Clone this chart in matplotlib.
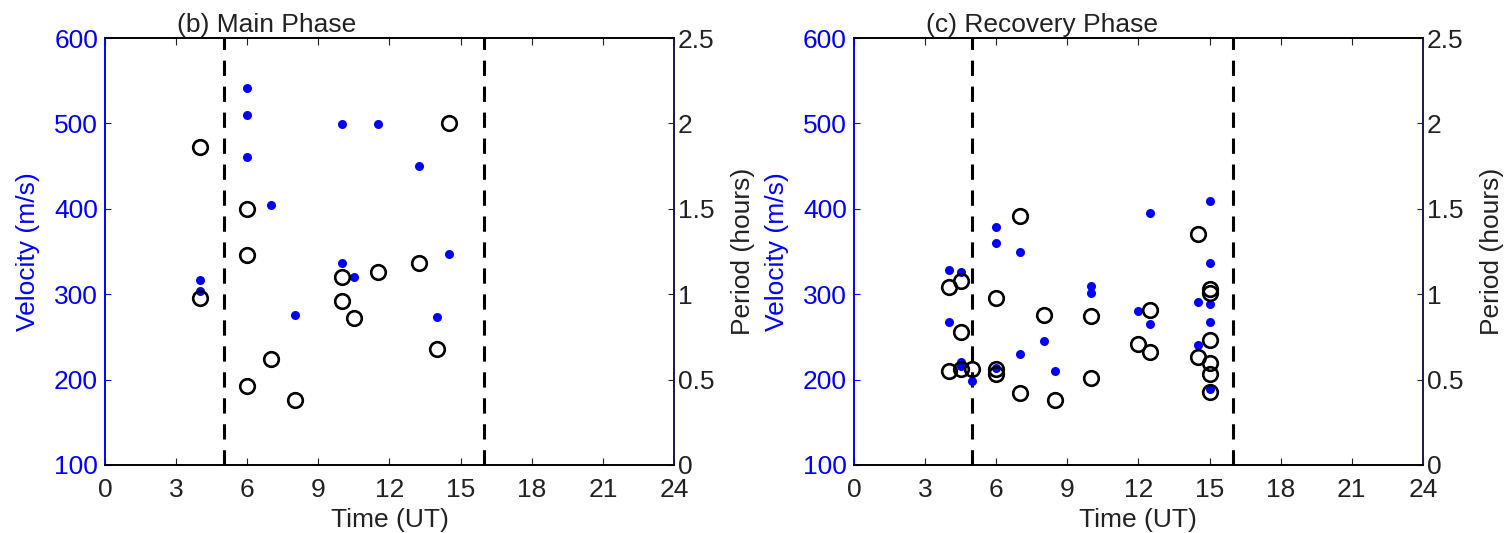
"""
Velocity and period of wave events vs. time, main and recovery phases
"""

import numpy as np
import matplotlib.pyplot as plt
from matplotlib.ticker import FuncFormatter

plt.rcParams['font.family'] = ['Liberation Sans', 'DejaVu Sans']

# (b) main phase
main_v_time = [4, 4, 6, 6, 6, 7, 8, 10, 10, 10.5, 11.5, 13.25, 14, 14.5]
main_velocity = [317, 304, 541, 510, 461, 405, 276, 499, 336, 320, 499, 450, 273, 347]
main_p_time = [4, 4, 6, 6, 6, 7, 8, 10, 10, 10.5, 11.5, 13.25, 14, 14.5]
main_period = [1.86, 0.98, 1.50, 1.23, 0.46, 0.62, 0.38, 1.10, 0.96, 0.86, 1.13, 1.18, 0.68, 2.0]

# (c) recovery phase
rec_v_time = [4, 4, 4.5, 4.5, 4.5, 5, 6, 6, 6, 7, 7, 8, 8.5, 10, 10, 12,
              12.5, 12.5, 14.5, 14.5, 15, 15, 15, 15, 15]
rec_velocity = [328, 268, 326, 221, 216, 198, 379, 360, 214, 349, 230, 245, 210, 310, 301, 280,
                395, 265, 291, 241, 409, 337, 288, 267, 189]
rec_p_time = [4, 4, 4.5, 4.5, 4.5, 5, 6, 6, 6, 7, 7, 8, 8.5, 10, 10, 12,
              12.5, 12.5, 14.5, 14.5, 15, 15, 15, 15, 15, 15]
rec_period = [1.04, 0.55, 1.08, 0.78, 0.56, 0.56, 0.98, 0.56, 0.53, 1.46, 0.42, 0.88, 0.38, 0.87, 0.51, 0.71,
              0.91, 0.66, 1.35, 0.63, 1.03, 1.01, 0.73, 0.60, 0.53, 0.43]

phase_bounds = [5, 16]
panels = [
    ("(b) Main Phase", main_v_time, main_velocity, main_p_time, main_period),
    ("(c) Recovery Phase", rec_v_time, rec_velocity, rec_p_time, rec_period),
]

BLUE = '#0000ff'
DARK = '#222222'
FS = 19


def _fmt(v, pos):
    return f"{v:g}"


fig = plt.figure(figsize=(15.06, 5.33), dpi=100)
lefts = [0.0697, 0.567]

for left, (title, vt, vel, pt, per) in zip(lefts, panels):
    ax = fig.add_axes([left, 0.1276, 0.3778, 0.801])
    ax2 = ax.twinx()

    ax.plot(vt, vel, 'o', color=BLUE, markersize=6.5, markeredgewidth=0, zorder=3)
    for xb in phase_bounds:
        ax.axvline(xb, color='black', linestyle=(0, (5, 3.5)), linewidth=2.2, zorder=2)
    ax2.plot(pt, per, 'o', markerfacecolor='none', markeredgecolor='black',
             markersize=10.5, markeredgewidth=1.9, zorder=3)

    ax.set_xlim(0, 24)
    ax.set_ylim(100, 600)
    ax2.set_ylim(0, 2.5)
    ax.set_xticks(np.arange(0, 25, 3))
    ax.set_yticks(np.arange(100, 601, 100))
    ax2.set_yticks(np.arange(0, 2.51, 0.5))
    ax2.yaxis.set_major_formatter(FuncFormatter(_fmt))

    ax.tick_params(axis='x', direction='in', top=True, length=5, colors=DARK, labelsize=FS, pad=9.5)
    ax.tick_params(axis='y', direction='in', length=4, colors=BLUE, labelsize=FS, pad=5)
    ax2.tick_params(axis='y', direction='in', length=4, colors=DARK, labelsize=FS, pad=3)

    for a in (ax, ax2):
        for s in ('top', 'bottom', 'right'):
            a.spines[s].set_color('black')
            a.spines[s].set_linewidth(1.2)
        a.spines['left'].set_color(BLUE)
        a.spines['left'].set_linewidth(1.2)
    ax2.spines['right'].set_color('#1a1a60')

    ax.set_xlabel("Time (UT)", fontsize=FS, color=DARK, labelpad=4)
    ax.set_ylabel("Velocity (m/s)", fontsize=FS, color=BLUE, labelpad=10)
    ax2.set_ylabel("Period (hours)", fontsize=FS, color=DARK, labelpad=12)
    ax.text(0.127, 1.003, title, transform=ax.transAxes, ha='left', va='bottom',
            fontsize=FS, color=DARK)

fig.savefig("out.png", dpi=100)
